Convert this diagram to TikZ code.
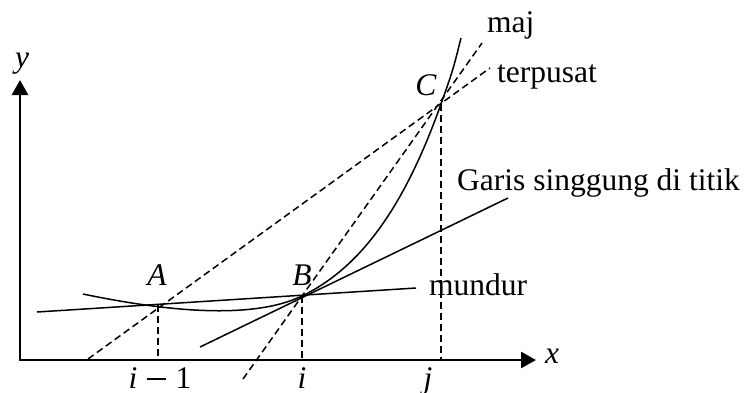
\documentclass[tikz,border=0pt]{standalone}
\usepackage{fontspec}
\setmainfont{Liberation Serif}
\usetikzlibrary{arrows.meta}
\newcommand{\mminus}{\hspace{0.3em}\rule[0.24em]{0.62em}{0.085em}\hspace{0.3em}}
\begin{document}
\begin{tikzpicture}[x=1pt,y=-1pt,
  axis/.style={line width=2.6pt,line join=miter,
    {Triangle[length=15pt,width=16pt]}-{Triangle[length=15pt,width=16pt]}},
  ln/.style={line width=1.5pt},
  dsh/.style={line width=1.5pt,dash pattern=on 7pt off 4pt},
  lbl/.style={font=\fontsize{31.5}{36}\selectfont, inner sep=0pt, anchor=base},
  lbll/.style={lbl, anchor=base west}]
\useasboundingbox (0,0) rectangle (746,392);
% key points
\coordinate (O) at (20,360);
\coordinate (ytip) at (20,80);
\coordinate (xtip) at (536,360);
\coordinate (A) at (158,305);
\coordinate (B) at (302,296);
\coordinate (C) at (441,104);
\coordinate (Ax) at (158,360);
\coordinate (Bx) at (302,360);
\coordinate (Cx) at (441,360);
\coordinate (m1) at (37,312);
\coordinate (m2) at (416,288);
\coordinate (t1) at (200,347);
\coordinate (t2) at (508,198);
\coordinate (c1) at (88,359);
\coordinate (c2) at (490,68);
\coordinate (j1) at (243,379);
\coordinate (j2) at (482,43);
\coordinate (f0) at (83,294);
\coordinate (f4) at (461,38);
% axes
\draw[axis] (ytip) -- (O) -- (xtip);
% dashed verticals
\draw[dsh] (A) -- (Ax);
\draw[dsh] (B) -- (Bx);
\draw[dsh] (C) -- (Cx);
% secant lines
\draw[dsh] (c1) -- (c2);
\draw[dsh] (j1) -- (j2);
\draw[ln] (m1) -- (m2);
\draw[ln] (t1) -- (t2);
% curve
\draw[ln] (f0) .. controls (160,310) and (250,321) .. (B)
  .. controls (362,267) and (405,205) .. (C)
  .. controls (453,70) .. (f4);
% labels
\node[lbl] (ly) at (22,67) {\textit{y}};
\node[lbl] (lx) at (552,363) {\textit{x}};
\node[lbl] (lA) at (157,285) {\textit{A}};
\node[lbl] (lB) at (302,285) {\textit{B}};
\node[lbl] (lC) at (426,95) {\textit{C}};
\node[lbl] (li1) at (160,388) {\textit{i}\mminus 1};
\node[lbl] (li) at (302,388) {\textit{i}};
\node[lbl] (lj) at (428,388) {\textit{j}};
\node[lbll] (tmaj) at (487,32) {maj};
\node[lbll] (tter) at (497,82) {terpusat};
\node[lbll] (tgar) at (457,190) {Garis singgung di titik};
\node[lbll] (tmun) at (429,295) {mundur};
\end{tikzpicture}
\end{document}
